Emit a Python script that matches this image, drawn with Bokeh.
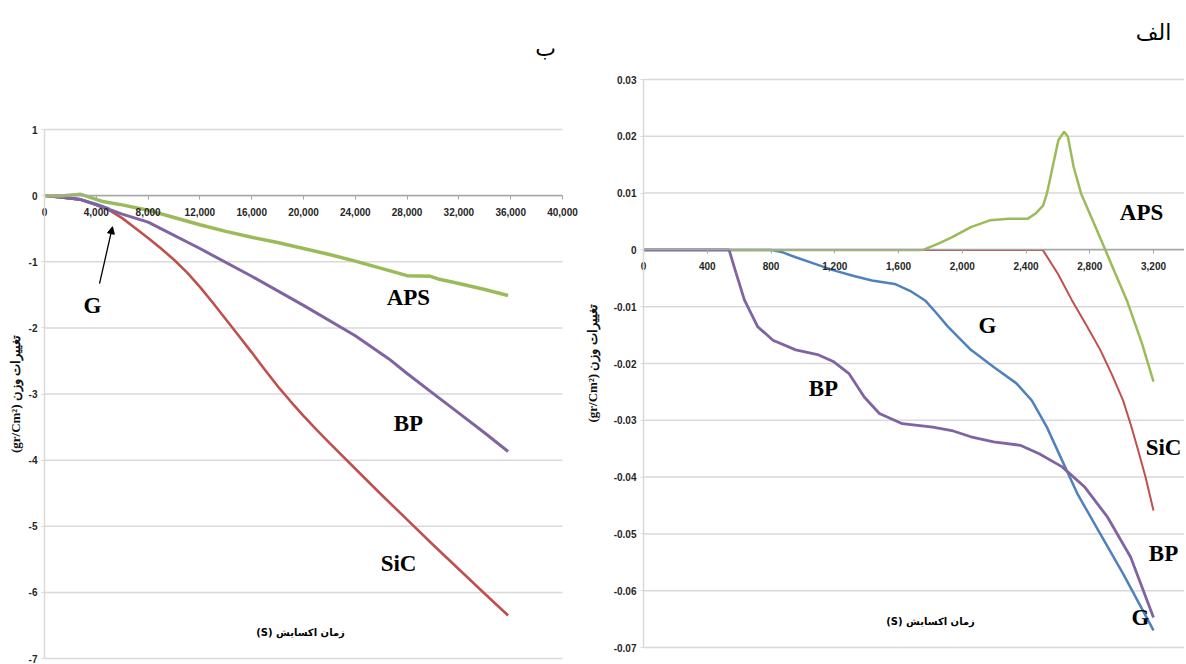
from bokeh.plotting import figure
from bokeh.layouts import row
from bokeh.models import Label, Arrow, NormalHead, FixedTicker, NumeralTickFormatter
from bokeh.embed import file_html
from bokeh.resources import INLINE

# ---------------- Panel "ب" (left): long oxidation ----------------
left_x_ticks = [0, 4000, 8000, 12000, 16000, 20000, 24000, 28000, 32000, 36000, 40000]
left_y_ticks = [1, 0, -1, -2, -3, -4, -5, -6, -7]

left_g_t = [0, 1500, 2800, 4000, 5000]
left_g_w = [0, -0.03, -0.06, -0.13, -0.2]

left_sic_t = [0, 1500, 2800, 4000, 5000, 6000, 7000, 8000, 9000, 10000, 11000, 12000, 13000,
              14000, 15000, 16000, 17000, 18000, 19000, 20000, 21000, 22000, 24000, 26000,
              28000, 30000, 32000, 34000, 35800]
left_sic_w = [0, -0.03, -0.06, -0.14, -0.22, -0.34, -0.49, -0.64, -0.8, -0.97, -1.16, -1.38, -1.62,
              -1.87, -2.12, -2.37, -2.63, -2.88, -3.11, -3.33, -3.54, -3.74, -4.13, -4.52,
              -4.9, -5.28, -5.65, -6.02, -6.35]

left_bp_t = [0, 1500, 2800, 4000, 5000, 6000, 8000, 12000, 16000, 20000, 24000, 26600, 28000,
             30000, 32000, 34000, 35800]
left_bp_w = [0, -0.03, -0.06, -0.14, -0.21, -0.28, -0.4, -0.8, -1.22, -1.66, -2.12, -2.47, -2.69,
             -2.99, -3.29, -3.59, -3.87]

left_aps_t = [0, 1500, 2800, 3600, 4500, 6000, 8000, 10000, 12000, 14000, 16000, 18000, 20000,
              22000, 24000, 26000, 28000, 29800, 30400, 32000, 34000, 35800]
left_aps_w = [0, 0.0, 0.02, -0.03, -0.09, -0.14, -0.22, -0.33, -0.44, -0.54, -0.63, -0.71, -0.8,
              -0.89, -0.99, -1.1, -1.21, -1.22, -1.26, -1.33, -1.42, -1.51]

# ---------------- Panel "الف" (right): first 3200 s ----------------
right_x_ticks = [0, 400, 800, 1200, 1600, 2000, 2400, 2800, 3200]
right_y_ticks = [0.03, 0.02, 0.01, 0, -0.01, -0.02, -0.03, -0.04, -0.05, -0.06, -0.07]

right_g_t = [0, 800, 870, 955, 1080, 1194, 1320, 1433, 1576, 1672, 1767, 1840, 1910, 2054, 2197,
             2340, 2436, 2531, 2627, 2722, 2866, 3009, 3200]
right_g_w = [0, 0, -0.0004, -0.0013, -0.0025, -0.0036, -0.0046, -0.0054, -0.006, -0.0072, -0.0089,
             -0.0112, -0.0135, -0.0176, -0.0206, -0.0235, -0.0265, -0.0312, -0.0371, -0.0429, -0.05,
             -0.057, -0.067]

right_sic_t = [0, 2505, 2600, 2687, 2780, 2866, 2940, 3009, 3060, 3104, 3150, 3200]
right_sic_w = [0, 0, -0.0042, -0.0088, -0.0133, -0.0176, -0.022, -0.0265, -0.031, -0.0353, -0.04, -0.0459]

right_aps_t = [0, 1755, 1850, 1934, 2054, 2173, 2293, 2412, 2460, 2507, 2531, 2567, 2603, 2639,
               2663, 2699, 2746, 2818, 2890, 2961, 3033, 3128, 3200]
right_aps_w = [0, 0, 0.0011, 0.0022, 0.004, 0.0052, 0.0055, 0.0055, 0.0064, 0.0078, 0.0099, 0.0146,
               0.0193, 0.0208, 0.0199, 0.0146, 0.0099, 0.0052, 0.0005, -0.0042, -0.0089, -0.0165, -0.0232]

right_bp_t = [0, 537, 580, 633, 716, 812, 955, 1099, 1194, 1290, 1385, 1480, 1624, 1815, 1934,
              2054, 2197, 2364, 2483, 2627, 2770, 2913, 3057, 3200]
right_bp_w = [0, 0, -0.004, -0.0088, -0.0135, -0.0159, -0.0176, -0.0185, -0.0197, -0.0218, -0.0259,
              -0.0288, -0.0306, -0.0312, -0.0318, -0.0329, -0.0338, -0.0344, -0.0359, -0.0382,
              -0.0418, -0.0471, -0.0541, -0.0647]

GREEN = "#9BBB59"
PURPLE = "#8064A2"
RED = "#C0504D"
BLUE = "#4F81BD"
GRID = "#D9D9D9"

TICK_FONT = "Liberation Sans"
SERIF = "Liberation Serif"
ARABIC = "DejaVu Sans"

Y_TITLE = "\u202bتغییرات وزن (gr/Cm²)\u202c"
X_TITLE = "\u202bزمان اکسایش (S)\u202c"

FIG_H = 664


def make_fig(width, px_left, px_per_x, px_top, px_per_y, y_max, xticks, yticks,
             xfmt, yfmt, ylab_standoff, grid_end):
    # frame covers the whole figure; axes are pinned to the data origin
    x0 = -px_left / px_per_x
    x1 = (width - px_left) / px_per_x
    y1 = y_max + px_top / px_per_y
    y0 = y1 - FIG_H / px_per_y
    p = figure(width=width, height=FIG_H, x_range=(x0, x1), y_range=(y0, y1),
               output_backend="svg", toolbar_location=None,
               min_border=0, min_border_left=0, min_border_right=0,
               min_border_top=0, min_border_bottom=0)
    p.outline_line_color = None
    p.background_fill_color = "white"
    p.border_fill_color = "white"
    p.xgrid.visible = False
    p.ygrid.visible = False

    # horizontal gridlines, one per y tick
    p.segment(x0=[0] * len(yticks), x1=[grid_end] * len(yticks), y0=yticks, y1=yticks,
              line_color=GRID, line_width=1.5)

    xa = p.xaxis[0]
    xa.fixed_location = 0
    xa.bounds = (0, grid_end)
    xa.ticker = FixedTicker(ticks=xticks)
    xa.formatter = NumeralTickFormatter(format=xfmt)
    xa.axis_line_color = "#A6A6A6"
    xa.axis_line_width = 1.5
    xa.major_tick_line_color = "#A6A6A6"
    xa.major_tick_out = 4
    xa.major_tick_in = 0
    xa.minor_tick_line_color = None
    xa.major_label_standoff = 8
    xa.major_label_text_font = TICK_FONT
    xa.major_label_text_font_style = "bold"
    xa.major_label_text_font_size = "10px"
    xa.major_label_text_color = "#262626"

    ya = p.yaxis[0]
    ya.fixed_location = 0
    ya.bounds = (min(yticks), max(yticks))
    ya.ticker = FixedTicker(ticks=yticks)
    ya.formatter = NumeralTickFormatter(format=yfmt)
    ya.axis_line_color = GRID
    ya.axis_line_width = 1.5
    ya.major_tick_line_color = GRID
    ya.major_tick_out = 3
    ya.major_tick_in = 0
    ya.minor_tick_line_color = None
    ya.major_label_standoff = 4
    ya.major_label_text_font = TICK_FONT
    ya.major_label_text_font_style = "bold"
    ya.major_label_text_font_size = "10px"
    ya.major_label_text_color = "#262626"
    ya.axis_label = Y_TITLE
    ya.axis_label_text_font = SERIF
    ya.axis_label_text_font_style = "bold"
    ya.axis_label_text_font_size = "13px"
    ya.axis_label_text_color = "#111111"
    ya.axis_label_standoff = ylab_standoff
    return p


def tag(p, x, y, text, size="23px", font=SERIF, style="bold"):
    p.add_layout(Label(x=x, y=y, text=text, text_font=font, text_font_size=size,
                       text_font_style=style, text_align="center", text_baseline="middle",
                       text_color="black"))


# ---------- left figure ----------
left = make_fig(585, 44, 518 / 40000, 129, 66.125, 1, left_x_ticks, left_y_ticks,
                "0,0", "0", 3, 40000)
left.line(left_g_t, left_g_w, line_color=BLUE, line_width=3)
left.line(left_sic_t, left_sic_w, line_color=RED, line_width=2.6)
left.line(left_bp_t, left_bp_w, line_color=PURPLE, line_width=3)
left.line(left_aps_t, left_aps_w, line_color=GREEN, line_width=3.5)

tag(left, 28100, -1.54, "APS")
tag(left, 28100, -3.45, "BP")
tag(left, 27340, -5.56, "SiC")
tag(left, 3710, -1.66, "G")
left.add_layout(Arrow(x_start=4250, y_start=-1.33, x_end=5250, y_end=-0.47,
                      line_color="black", line_width=1.3,
                      end=NormalHead(size=7, fill_color="black", line_color="black")))
tag(left, 19770, -6.61, X_TITLE, size="10px", font=ARABIC)
tag(left, 38690, 2.22, "ب", size="22px", font=ARABIC, style="normal")

# ---------- right figure ----------
r_px_per_x = 63.75 / 400
r_end = (599 - 58) / r_px_per_x
right = make_fig(599, 58, r_px_per_x, 79, 5680, 0.03, right_x_ticks, right_y_ticks,
                 "0,0", "0.[00]", 11, r_end)
right.line(right_g_t, right_g_w, line_color=BLUE, line_width=2.5)
right.line(right_sic_t, right_sic_w, line_color=RED, line_width=2)
right.line(right_aps_t, right_aps_w, line_color=GREEN, line_width=2.5)
right.line(right_bp_t, right_bp_w, line_color=PURPLE, line_width=2.8)

tag(right, 3125, 0.0066, "APS")
tag(right, 2158, -0.0133, "G")
tag(right, 1129, -0.0244, "BP")
tag(right, 3263, -0.0348, "SiC")
tag(right, 3263, -0.0535, "BP")
tag(right, 3118, -0.0647, "G")
tag(right, 1801, -0.0654, X_TITLE, size="10px", font=ARABIC)
tag(right, 3200, 0.0383, "الف", size="22px", font=ARABIC, style="normal")

layout = row(left, right)
open("out.html", "w").write(file_html(layout, INLINE))
